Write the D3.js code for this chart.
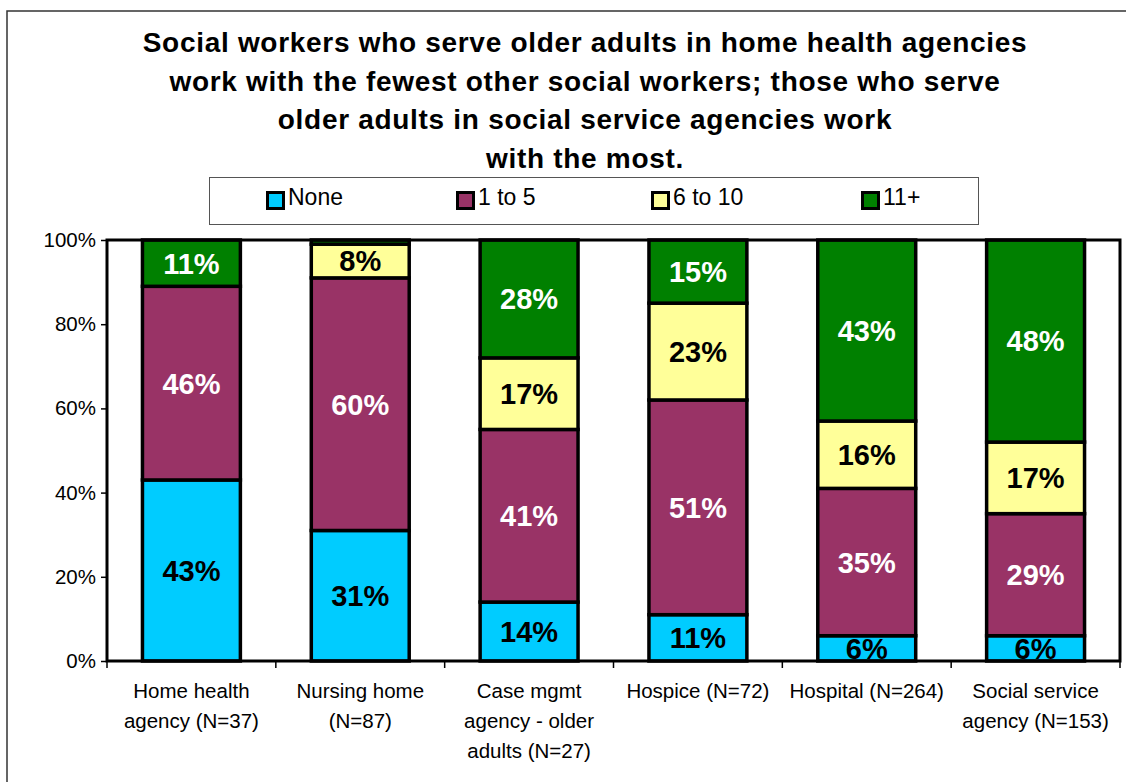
<!DOCTYPE html>
<html>
<head>
<meta charset="utf-8">
<script src="https://cdn.jsdelivr.net/npm/d3@7"></script>
<style>
  html, body { margin: 0; padding: 0; background: #fff; }
  svg { display: block; font-family: "Liberation Sans", Arial, sans-serif; }
</style>
</head>
<body>
<svg id="chart" width="1126" height="782"></svg>
<script>
// Share of social workers by number of other social workers at their agency (%)
const categories = [
  ["Home health", "agency (N=37)"],
  ["Nursing home", "(N=87)"],
  ["Case mgmt", "agency - older", "adults (N=27)"],
  ["Hospice (N=72)"],
  ["Hospital (N=264)"],
  ["Social service", "agency (N=153)"]
];
const seriesNames = ["None", "1 to 5", "6 to 10", "11+"];
const none      = [43, 31, 14, 11, 6, 6];
const oneToFive = [46, 60, 41, 51, 35, 29];
const sixToTen  = [0, 8, 17, 23, 16, 17];
const elevenUp  = [11, 1, 28, 15, 43, 48];
const yTicks = [0, 20, 40, 60, 80, 100];
const titleLines = [
  "Social workers who serve older adults in home health agencies",
  "work with the fewest other social workers; those who serve",
  "older adults in social service agencies work",
  "with the most."
];

const seriesValues = [none, oneToFive, sixToTen, elevenUp];
const fills = ["#00CCFF", "#993366", "#FFFF99", "#008000"];
const labelColors = ["#000", "#fff", "#000", "#fff"];

const svg = d3.select("#chart");

// Outer chart frame
svg.append("rect")
  .attr("x", 7).attr("y", 11)
  .attr("width", 1130).attr("height", 800)
  .attr("fill", "#fff").attr("stroke", "#333").attr("stroke-width", 1.5);

// Title
svg.append("g").selectAll("text")
  .data(titleLines).join("text")
  .attr("x", 585)
  .attr("y", (d, i) => 52 + i * 38.5)
  .attr("text-anchor", "middle")
  .attr("font-size", 28).attr("font-weight", "bold")
  .attr("letter-spacing", 0.7)
  .attr("fill", "#000")
  .text(d => d);

// Legend
const legend = svg.append("g");
legend.append("rect")
  .attr("x", 209.5).attr("y", 177.5)
  .attr("width", 769).attr("height", 47)
  .attr("fill", "#fff").attr("stroke", "#555").attr("stroke-width", 1);
const legendX = [266, 456, 651, 861];
const li = legend.selectAll("g.item").data(seriesNames).join("g")
  .attr("class", "item")
  .attr("transform", (d, i) => `translate(${legendX[i]},191)`);
li.append("rect")
  .attr("x", 1.5).attr("y", 1.5).attr("width", 16).attr("height", 16)
  .attr("fill", (d, i) => fills[i]).attr("stroke", "#000").attr("stroke-width", 3);
li.append("text")
  .attr("x", 22).attr("y", 14)
  .attr("font-size", 23).attr("fill", "#000")
  .text(d => d);

// Scales
const x = d3.scaleBand()
  .domain(d3.range(categories.length))
  .range([107, 1120])
  .paddingInner(0.42).paddingOuter(0.21);
const y = d3.scaleLinear().domain([0, 100]).range([661, 240]);

// Stack rows
const rows = categories.map((c, i) => {
  const r = { idx: i };
  seriesNames.forEach((s, k) => { r[s] = seriesValues[k][i]; });
  return r;
});
const stacked = d3.stack().keys(seriesNames)(rows);

// Plot background
svg.append("rect")
  .attr("x", 107).attr("y", 240)
  .attr("width", 1013).attr("height", 421)
  .attr("fill", "#fff");

// Bars
const layers = svg.append("g").selectAll("g")
  .data(stacked).join("g")
  .attr("fill", (d, i) => fills[i]);
layers.selectAll("rect")
  .data(d => d.filter(p => p[1] - p[0] > 0))
  .join("rect")
  .attr("x", d => x(d.data.idx))
  .attr("width", x.bandwidth())
  .attr("y", d => y(d[1]))
  .attr("height", d => y(d[0]) - y(d[1]))
  .attr("stroke", "#000").attr("stroke-width", 3.5);

// Value labels
const labels = svg.append("g");
stacked.forEach((layer, k) => {
  labels.selectAll(null)
    .data(layer.filter(p => p[1] - p[0] >= 5))
    .join("text")
    .attr("x", d => x(d.data.idx) + x.bandwidth() / 2)
    .attr("y", d => y((d[0] + d[1]) / 2))
    .attr("dy", "0.36em")
    .attr("text-anchor", "middle")
    .attr("font-size", 29).attr("font-weight", "bold")
    .attr("fill", labelColors[k])
    .text(d => (d[1] - d[0]) + "%");
});

// Plot frame
svg.append("rect")
  .attr("x", 107).attr("y", 240)
  .attr("width", 1013).attr("height", 421)
  .attr("fill", "none").attr("stroke", "#000").attr("stroke-width", 3);

// Y axis
const yAxis = svg.append("g")
  .attr("transform", "translate(107,0)")
  .call(d3.axisLeft(y).tickValues(yTicks).tickFormat(d => d + "%").tickSize(6).tickPadding(5));
yAxis.select(".domain").remove();
yAxis.selectAll("line").attr("stroke", "#000").attr("stroke-width", 1.5);
yAxis.selectAll("text")
  .attr("font-size", 20.5).attr("fill", "#000")
  .attr("font-family", "Liberation Sans, Arial, sans-serif");

// X axis: tick marks at category boundaries
const bounds = d3.range(categories.length + 1).map(i => 107 + i * x.step());
svg.append("g").selectAll("line")
  .data(bounds).join("line")
  .attr("x1", d => d).attr("x2", d => d)
  .attr("y1", 661).attr("y2", 668)
  .attr("stroke", "#000").attr("stroke-width", 1.5);

// Category labels
const cat = svg.append("g").selectAll("text")
  .data(categories).join("text")
  .attr("x", (d, i) => x(i) + x.bandwidth() / 2)
  .attr("y", 698)
  .attr("text-anchor", "middle")
  .attr("font-size", 20.5).attr("fill", "#000");
cat.selectAll("tspan")
  .data(d => d).join("tspan")
  .attr("x", function () { return d3.select(this.parentNode).attr("x"); })
  .attr("dy", (d, i) => i === 0 ? 0 : 30)
  .text(d => d);
</script>
</body>
</html>
